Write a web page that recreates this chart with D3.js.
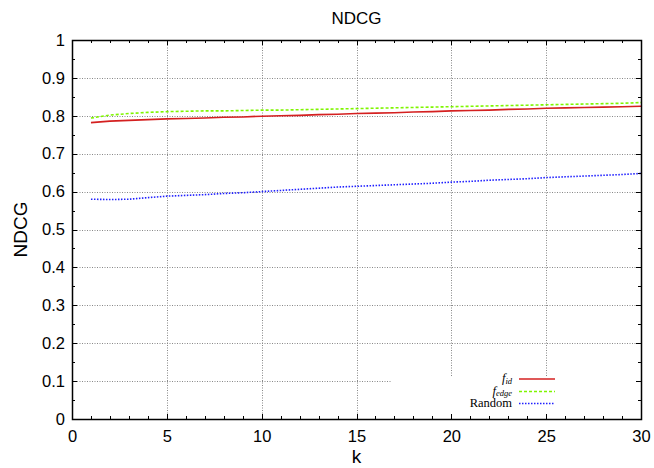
<!DOCTYPE html>
<html>
<head>
<meta charset="utf-8">
<script src="https://cdn.jsdelivr.net/npm/d3@7"></script>
<style>
  html, body { margin: 0; padding: 0; background: #fff; }
  svg { display: block; }
</style>
</head>
<body>
<svg id="chart" width="654" height="468"></svg>
<script>
// NDCG@k for the three ranking functions
const kValues = [1, 2, 3, 4, 5, 6, 7, 8, 9, 10, 11, 12, 13, 14, 15,
                 16, 17, 18, 19, 20, 21, 22, 23, 24, 25, 26, 27, 28, 29, 30];
const fIdValues = [0.782, 0.786, 0.788, 0.790, 0.792, 0.793, 0.794, 0.796, 0.797, 0.799,
                   0.800, 0.801, 0.803, 0.804, 0.806, 0.807, 0.808, 0.810, 0.811, 0.813,
                   0.814, 0.815, 0.817, 0.818, 0.820, 0.821, 0.822, 0.823, 0.824, 0.825];
const fEdgeValues = [0.794, 0.802, 0.806, 0.809, 0.811, 0.812, 0.813, 0.813, 0.814, 0.815,
                     0.815, 0.816, 0.817, 0.818, 0.819, 0.820, 0.821, 0.822, 0.823, 0.824,
                     0.825, 0.826, 0.827, 0.828, 0.829, 0.830, 0.831, 0.832, 0.833, 0.835];
const randomValues = [0.580, 0.579, 0.580, 0.584, 0.588, 0.590, 0.592, 0.595, 0.597, 0.600,
                      0.603, 0.606, 0.609, 0.612, 0.614, 0.616, 0.618, 0.620, 0.622, 0.625,
                      0.627, 0.630, 0.632, 0.634, 0.637, 0.639, 0.641, 0.643, 0.645, 0.648];
const xTicks = [0, 5, 10, 15, 20, 25, 30];
const yTicks = [0, 0.1, 0.2, 0.3, 0.4, 0.5, 0.6, 0.7, 0.8, 0.9, 1];

const sans = "'Liberation Sans', Arial, Helvetica, sans-serif";
const serif = "'Liberation Serif', 'DejaVu Serif', 'Times New Roman', serif";

const svg = d3.select("#chart");
const plotL = 72, plotR = 641, plotT = 40, plotB = 419;

const x = d3.scaleLinear().domain([0, 30]).range([plotL, plotR]);
const y = d3.scaleLinear().domain([0, 1]).range([plotB, plotT]);

// dotted grid
const grid = svg.append("g")
  .attr("stroke", "#888").attr("stroke-width", 1).attr("stroke-dasharray", "1,1.5");
xTicks.slice(1, -1).forEach(v => {
  grid.append("line").attr("x1", Math.round(x(v)) + 0.5).attr("x2", Math.round(x(v)) + 0.5)
    .attr("y1", plotT).attr("y2", plotB);
});
yTicks.slice(1, -1).forEach(v => {
  grid.append("line").attr("y1", Math.round(y(v)) + 0.5).attr("y2", Math.round(y(v)) + 0.5)
    .attr("x1", plotL).attr("x2", plotR);
});

// key area sits on an opaque box over the grid
svg.append("rect").attr("x", 392).attr("y", 376)
  .attr("width", plotR - 392 - 1).attr("height", plotB - 376 - 1).attr("fill", "#fff");

// series
const series = [
  { name: "f_id", sub: "id", values: fIdValues, color: "#d42020", dash: null, width: 1.6 },
  { name: "f_edge", sub: "edge", values: fEdgeValues, color: "#7ff500", dash: "3,2", width: 1.6 },
  { name: "Random", sub: null, values: randomValues, color: "#2020ff", dash: "1.5,1.5", width: 1.6 }
];

const line = d3.line().x((d, i) => x(kValues[i])).y(d => y(d));

series.forEach(s => {
  svg.append("path").datum(s.values)
    .attr("d", line).attr("fill", "none")
    .attr("stroke", s.color).attr("stroke-width", s.width)
    .attr("stroke-dasharray", s.dash);
});

// frame with inward ticks on all four sides
const axisG = svg.append("g").attr("stroke", "#000").attr("stroke-width", 1);
const xMinor = d3.range(0, 31, 1);
const yMinor = d3.range(0, 21).map(i => i * 0.05);
xMinor.forEach(v => {
  const len = (v % 5 === 0) ? 5 : 3;
  const xx = Math.round(x(v)) + 0.5;
  axisG.append("line").attr("x1", xx).attr("x2", xx).attr("y1", plotB).attr("y2", plotB - len);
  axisG.append("line").attr("x1", xx).attr("x2", xx).attr("y1", plotT).attr("y2", plotT + len);
});
yMinor.forEach((v, i) => {
  const len = (i % 2 === 0) ? 5 : 3;
  const yy = Math.round(y(v)) + 0.5;
  axisG.append("line").attr("x1", plotL).attr("x2", plotL + len).attr("y1", yy).attr("y2", yy);
  axisG.append("line").attr("x1", plotR).attr("x2", plotR - len).attr("y1", yy).attr("y2", yy);
});
svg.append("rect").attr("x", plotL + 0.5).attr("y", plotT + 0.5)
  .attr("width", plotR - plotL).attr("height", plotB - plotT)
  .attr("fill", "none").attr("stroke", "#000").attr("stroke-width", 1.5);

// tick labels via D3 axes (lines hidden, labels kept)
const xAxis = svg.append("g").attr("transform", `translate(0,${plotB})`)
  .call(d3.axisBottom(x).tickValues(xTicks).tickSize(0).tickPadding(11).tickFormat(d3.format("d")));
const yAxis = svg.append("g").attr("transform", `translate(${plotL},0)`)
  .call(d3.axisLeft(y).tickValues(yTicks).tickSize(0).tickPadding(7)
    .tickFormat(d => (d === 0 || d === 1) ? d3.format("d")(d) : d3.format(".1f")(d)));
[xAxis, yAxis].forEach(g => {
  g.select(".domain").remove();
  g.selectAll("text").attr("fill", "#000")
    .style("font-family", sans).style("font-size", "16.5px");
});

// titles
svg.append("text").attr("x", (plotL + plotR) / 2).attr("y", 24)
  .attr("text-anchor", "middle").style("font-family", sans).style("font-size", "17px").text("NDCG");
svg.append("text").attr("x", (plotL + plotR) / 2).attr("y", 463)
  .attr("text-anchor", "middle").style("font-family", sans).style("font-size", "19px").text("k");
svg.append("text").attr("transform", `translate(27,${(plotT + plotB) / 2}) rotate(-90)`)
  .attr("text-anchor", "middle").style("font-family", sans).style("font-size", "19px").text("NDCG");

// key
const keyRows = [379, 391.5, 403.5];
series.forEach((s, i) => {
  const yy = keyRows[i];
  const t = svg.append("text").attr("x", 512).attr("y", yy + 3)
    .attr("text-anchor", "end")
    .style("font-family", serif).style("font-size", "12.5px");
  if (s.sub) {
    t.append("tspan").style("font-style", "italic").text("f");
    t.append("tspan").style("font-style", "italic").style("font-size", "8.5px")
      .attr("dy", 1.5).text(s.sub);
  } else {
    t.text(s.name);
  }
  svg.append("line").attr("x1", 519).attr("x2", 555).attr("y1", yy).attr("y2", yy)
    .attr("stroke", s.color).attr("stroke-width", s.width).attr("stroke-dasharray", s.dash);
});
</script>
</body>
</html>
